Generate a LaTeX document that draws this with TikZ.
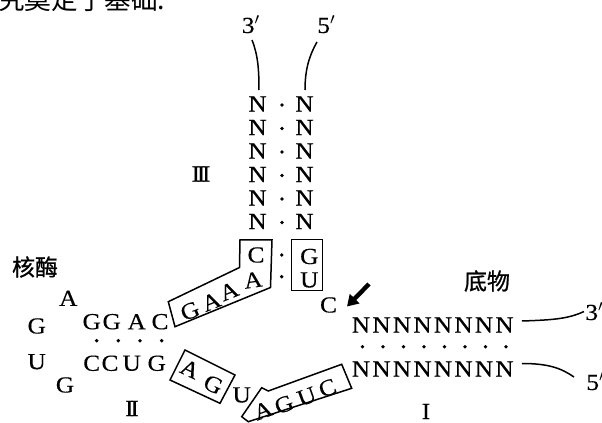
\documentclass[tikz,border=0pt]{standalone}
\usepackage{fontspec}
\setmainfont{Liberation Serif}
\newfontfamily\nucfont[FakeStretch=1.1,FakeBold=0.3]{Liberation Serif}
\newfontfamily\cjk{Noto Sans CJK SC}
\newfontfamily\cjkb[FakeBold=0.8]{Noto Sans CJK SC}
\usetikzlibrary{arrows.meta}
\newcommand{\romI}{I}
\newcommand{\romII}{I\kern-1.6pt I}
\newcommand{\romIII}{I\kern-1.6pt I\kern-1.6pt I}
\begin{document}
\begin{tikzpicture}[x=0.5pt,y=-0.5pt,
  nuc/.style={inner sep=0pt, font=\nucfont\fontsize{11.5}{13}\selectfont},
  dotn/.style={circle, fill=black, inner sep=0pt, minimum size=1.9pt},
  cjklab/.style={inner sep=0pt, font=\cjkb\fontsize{11.5}{13}\selectfont},
  roman/.style={inner sep=0pt, font=\nucfont\fontsize{11.5}{13}\selectfont},
  boxline/.style={draw=black, line width=0.75pt, line join=miter},
  strand/.style={draw=black, line width=0.75pt},
  endlab/.style={inner sep=0pt, font=\nucfont\fontsize{11.5}{13}\selectfont},
]
\useasboundingbox (0,0) rectangle (602,423);
% cut-off line of text at the top
\node[inner sep=0pt, anchor=base west, font=\cjk\fontsize{13.3}{15}\selectfont] (toptext) at (-2,10) {究奠定了基础.};

% stem III
\foreach \y [count=\i] in {104,127.5,151,174.5,198,221.5}{
  \node[nuc] (L\i) at (257.5,\y) {N};
  \node[nuc] (R\i) at (304.5,\y) {N};
  \node[dotn] (SD\i) at (282,\y+1) {};
}
\node[endlab, anchor=base] (top3) at (251,33) {3$'$};
\node[endlab, anchor=base] (top5) at (326.5,33) {5$'$};
\coordinate (c3s) at (252,40);
\coordinate (c3e) at (259,90);
\coordinate (c5s) at (317,42);
\coordinate (c5e) at (305,90);
\draw[strand] (c3s) .. controls (258,55) and (259,70) .. (c3e);
\draw[strand] (c5s) .. controls (309,56) and (305,70) .. (c5e);
\node[roman] (rIII) at (201,174) {\romIII};

% junction C-G, A-U
\node[nuc] (jC) at (256,255) {C};
\node[nuc] (jG) at (309.3,256.5) {G};
\node[nuc] (jU) at (309.3,280) {U};
\node[dotn] (jd1) at (281.7,255) {};
\node[dotn] (jd2) at (281.7,276.7) {};
\draw[boxline] (291.7,239.3) rectangle (322.7,290.7);

% GAAA loop
\node[nuc, rotate=22] (gG) at (190,311) {G};
\node[nuc, rotate=22] (gA1) at (211.2,301.7) {A};
\node[nuc, rotate=22] (gA2) at (229,291.2) {A};
\node[nuc, rotate=8] (gA3) at (253,280) {A};
\draw[boxline] (240,240) -- (272,240) -- (270.5,287.5) -- (175,326.7) -- (168.3,301.7) -- (239.5,267.5) -- cycle;

% stem II and loop
\node[cjklab] (ribo) at (35,267) {核酶};
\node[nuc] (lA) at (68.3,298.3) {A};
\node[nuc] (lG1) at (36.7,326) {G};
\node[nuc] (lU) at (36.7,361.7) {U};
\node[nuc] (lG2) at (65,385) {G};
\foreach \t/\x [count=\i] in {G/91.7,G/111.7,A/136.7,C/160}{
  \node[nuc] (up\i) at (\x,321.7) {\t};
}
\foreach \x [count=\i] in {96.7,118.3,140,161.7}{
  \node[dotn] (md\i) at (\x,340.7) {};
}
\foreach \t/\x [count=\i] in {C/91.7,C/110,U/131.7,G/156.7}{
  \node[nuc] (lo\i) at (\x,363.3) {\t};
}
\node[roman] (rII) at (132,408.5) {\romII};

% AG box
\node[nuc, rotate=-25] (aA) at (190,369) {A};
\node[nuc, rotate=-25] (aG) at (213.3,384.5) {G};
\draw[boxline] (185,350) -- (235,375) -- (220,403.3) -- (170,380) -- cycle;
\node[nuc] (mU) at (241.7,395) {U};

% AGUC box
\node[nuc, rotate=20] (bA) at (263,410.5) {A};
\node[nuc, rotate=20] (bG) at (284,404.5) {G};
\node[nuc, rotate=20] (bU) at (306.7,396.5) {U};
\node[nuc, rotate=20] (bC) at (327.5,388) {C};
\draw[boxline] (241.7,416.7) -- (261.7,387.7) -- (268.3,391) -- (341.7,364.3) -- (351.7,388.3) -- (248.3,421.7) -- cycle;

% cleavage site
\node[nuc] (cC) at (328.5,305) {C};
\coordinate (arrT) at (369,284);
\coordinate (arrH) at (347,306.5);
\draw[line width=2.2pt, -{Triangle[length=5.5pt,width=6.5pt]}] (arrT) -- (arrH);

% substrate stem I
\node[cjklab] (subs) at (487,281) {底物};
\foreach \x [count=\i] in {361,381.5,402,422.5,443,463.5,484,504.5}{
  \node[nuc] (sT\i) at (\x,325) {N};
  \node[nuc] (sB\i) at (\x,369) {N};
  \node[dotn] (sD\i) at (\x+1.5,346.7) {};
}
\coordinate (s3s) at (522,321);
\coordinate (s3e) at (584,311.5);
\coordinate (s5s) at (522,363.5);
\coordinate (s5e) at (574,377);
\draw[strand] (s3s) .. controls (552,320) and (568,319) .. (s3e);
\draw[strand] (s5s) .. controls (548,363.5) and (561,368) .. (s5e);
\node[endlab, anchor=base west] (sub3) at (585,320) {3$'$};
\node[endlab, anchor=base west] (sub5) at (586,390) {5$'$};
\node[roman] (rI) at (426,411.5) {\romI};
\end{tikzpicture}
\end{document}
